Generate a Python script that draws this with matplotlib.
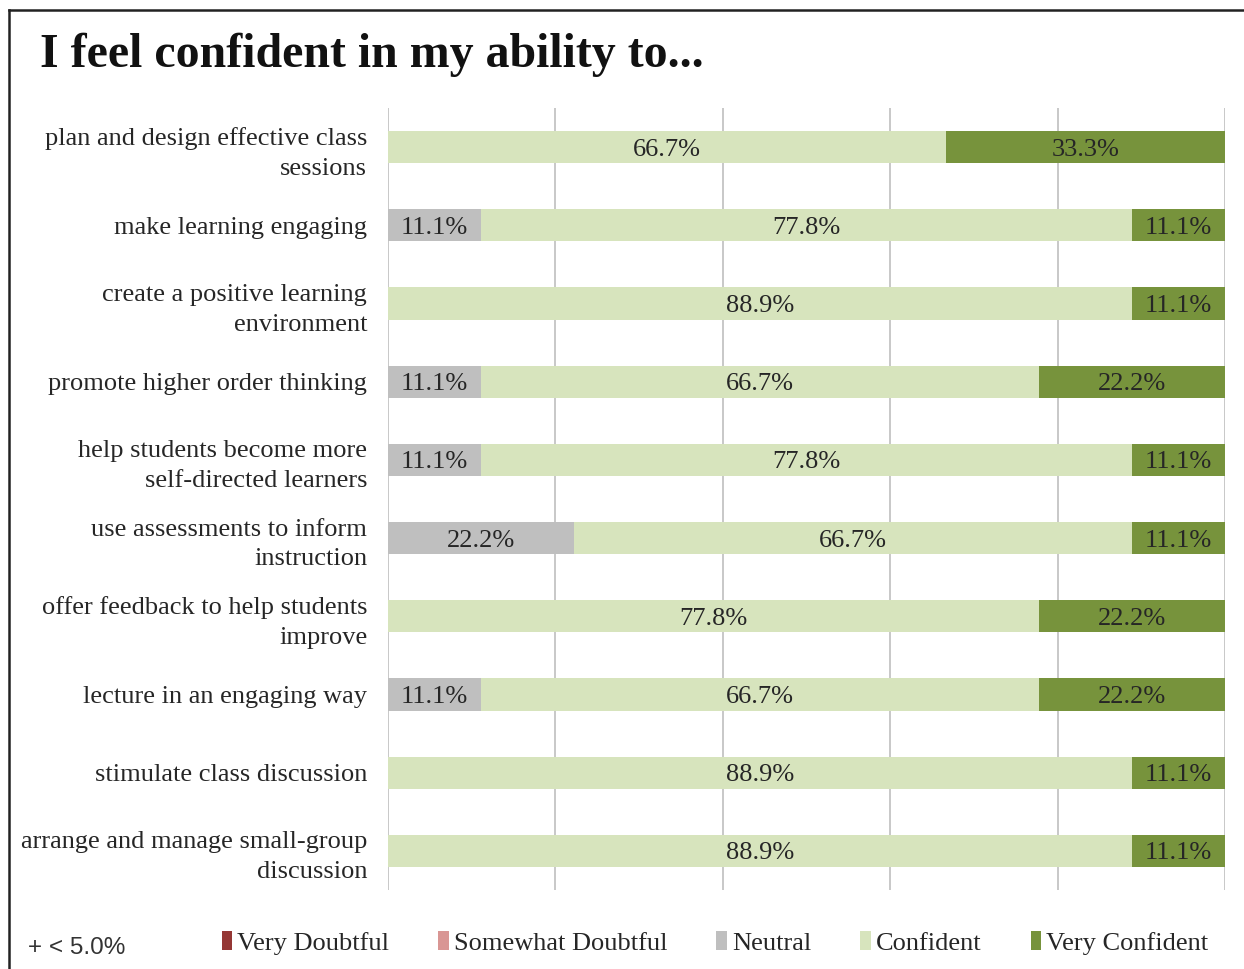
import matplotlib
matplotlib.use("Agg")
import matplotlib.pyplot as plt
from matplotlib.patches import Patch
from matplotlib.lines import Line2D
import numpy as np

plt.rcParams['font.family'] = ['Liberation Serif', 'DejaVu Serif']

# DATA
items = ["plan and design effective class\nsessions",
         "make learning engaging",
         "create a positive learning\nenvironment",
         "promote higher order thinking",
         "help students become more\nself-directed learners",
         "use assessments to inform\ninstruction",
         "offer feedback to help students\nimprove",
         "lecture in an engaging way",
         "stimulate class discussion",
         "arrange and manage small-group\ndiscussion"]
categories = ["Very Doubtful", "Somewhat Doubtful", "Neutral", "Confident", "Very Confident"]
very_doubtful = [0, 0, 0, 0, 0, 0, 0, 0, 0, 0]
somewhat_doubtful = [0, 0, 0, 0, 0, 0, 0, 0, 0, 0]
neutral = [0, 11.1, 0, 11.1, 11.1, 22.2, 0, 11.1, 0, 0]
confident = [66.7, 77.8, 88.9, 66.7, 77.8, 66.7, 77.8, 66.7, 88.9, 88.9]
very_confident = [33.3, 11.1, 11.1, 22.2, 11.1, 11.1, 22.2, 22.2, 11.1, 11.1]

colors = ["#953735", "#d99694", "#bfbfbf", "#d7e4bd", "#77933c"]
series = [very_doubtful, somewhat_doubtful, neutral, confident, very_confident]

fig = plt.figure(figsize=(12.44, 9.69), dpi=100)
ax = fig.add_axes([388 / 1244, 1 - 890 / 969, (1225 - 388) / 1244, (890 - 108) / 969])

y = np.arange(len(items))
left = np.zeros(len(items))
for vals, col, name in zip(series, colors, categories):
    vals = np.array(vals)
    ax.barh(y, vals, left=left, height=0.41, color=col, zorder=2, label=name)
    for yi, (l, v) in enumerate(zip(left, vals)):
        if v > 0:
            ax.text(l + v / 2, yi, "%.1f%%" % v, ha='center', va='center_baseline',
                    fontsize=19, color='#262626', zorder=3)
    left = left + vals

ax.set_xlim(0, 100)
ax.set_ylim(len(items) - 0.5, -0.5)
ax.set_xticks(np.arange(0, 101, 20))
ax.xaxis.grid(True, color='#bfbfbf', linewidth=1.2, zorder=0)
ax.tick_params(axis='x', length=0, labelbottom=False)
ax.tick_params(axis='y', length=0, pad=15)
ax.set_yticks(y)
ax.set_yticklabels(items, fontsize=19, color='#262626', linespacing=1.45)
for s in ax.spines.values():
    s.set_visible(False)

fig.text(40 / 1244, 1 - 55 / 969, "I feel confident in my ability to...", fontsize=34.5,
         fontweight='bold', va='center', ha='left', color='#111111')

# legend
handles = [Patch(facecolor=c, edgecolor='none', label=n) for c, n in zip(colors, categories)]
fig.legend(handles=handles, loc='center', bbox_to_anchor=(715 / 1244, 1 - 943 / 969),
           ncol=5, frameon=False, fontsize=19, handlelength=0.4, handleheight=0.75,
           handletextpad=0.2, columnspacing=1.85, labelcolor='#262626')

fig.text(28 / 1244, 1 - 948 / 969, "+ < 5.0%", fontsize=17.5, family='Liberation Sans',
         color='#333333', va='center', ha='left')

# border
fig.add_artist(Line2D([9 / 1244, 9 / 1244], [0, 1 - 10 / 969], transform=fig.transFigure,
                      color='#222222', linewidth=1.8))
fig.add_artist(Line2D([9 / 1244, 1], [1 - 10 / 969, 1 - 10 / 969], transform=fig.transFigure,
                      color='#222222', linewidth=1.8))

fig.savefig("out.png", dpi=100)
